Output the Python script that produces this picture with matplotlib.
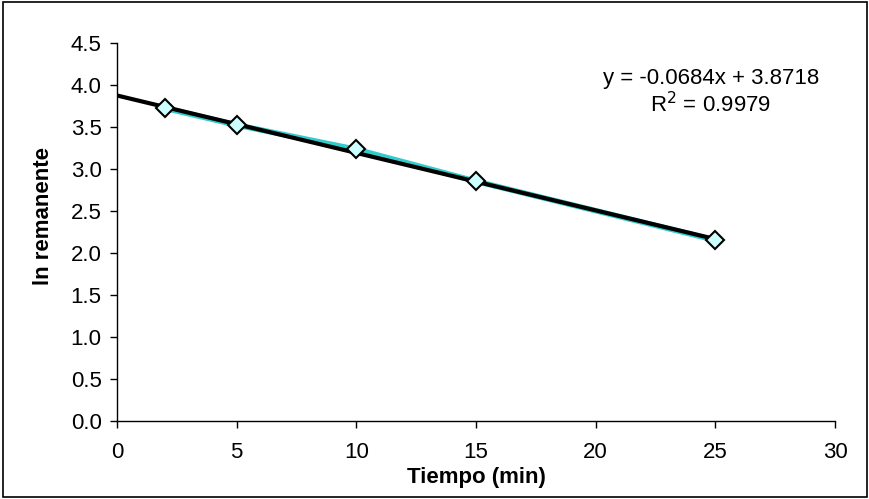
import numpy as np
import matplotlib
matplotlib.use("Agg")
import matplotlib.pyplot as plt
from matplotlib.patches import Rectangle

# datos
tiempo = [2, 5, 10, 15, 25]
ln_rem = [3.72, 3.52, 3.23, 2.85, 2.15]

# recta de tendencia
pendiente = -0.0684
intercepto = 3.8718
r2 = 0.9979

plt.rcParams['font.family'] = ['Liberation Sans', 'DejaVu Sans']

fig = plt.figure(figsize=(8.7, 4.99), dpi=100)
ax = fig.add_axes([117 / 870, 1 - 420.7 / 499, (835 - 117) / 870, (420.7 - 42.7) / 499])

# borde exterior del grafico
fig.patches.append(Rectangle((3 / 870, 2 / 499), 864 / 870, 495 / 499,
                             transform=fig.transFigure, fill=False,
                             edgecolor='black', linewidth=1.2))

ax.plot(tiempo, ln_rem, color='#33CCCC', lw=4, zorder=2)
xt = np.array([0, max(tiempo)])
ax.plot(xt, pendiente * xt + intercepto, color='black', lw=3, zorder=3)
ax.plot(tiempo, ln_rem, linestyle='none', marker='D', markersize=9,
        markerfacecolor='#CCFFFF', markeredgecolor='black', markeredgewidth=1.5, zorder=4)

ax.set_xlim(0, 30)
ax.set_ylim(0, 4.5)
ax.set_xticks(np.arange(0, 31, 5))
ax.set_yticks(np.arange(0, 4.51, 0.5))
ax.set_yticklabels([f"{v:.1f}" for v in np.arange(0, 4.51, 0.5)])
ax.tick_params(direction='out', length=5, width=1, labelsize=16, colors='black')
ax.tick_params(axis='x', pad=10)
ax.tick_params(axis='y', pad=6)
for s in ['top', 'right']:
    ax.spines[s].set_visible(False)
for s in ['left', 'bottom']:
    ax.spines[s].set_linewidth(1)

ax.set_xlabel('Tiempo (min)', fontsize=16, fontweight='bold')
ax.set_ylabel('ln remanente', fontsize=16, fontweight='bold')
ax.xaxis.set_label_coords(0.5, (420.7 - 467) / 378)
ax.yaxis.set_label_coords((54 - 117) / 718, (420.7 - 216) / 378)

ax.text(0.827, 0.905, f"y = {pendiente:.4f}x + {intercepto:.4f}", transform=ax.transAxes,
        ha='center', va='center', fontsize=16)
ax.text(0.827, 0.835, f"R$^2$ = {r2:.4f}", transform=ax.transAxes,
        ha='center', va='center', fontsize=16)

fig.savefig('out.png', dpi=100)
